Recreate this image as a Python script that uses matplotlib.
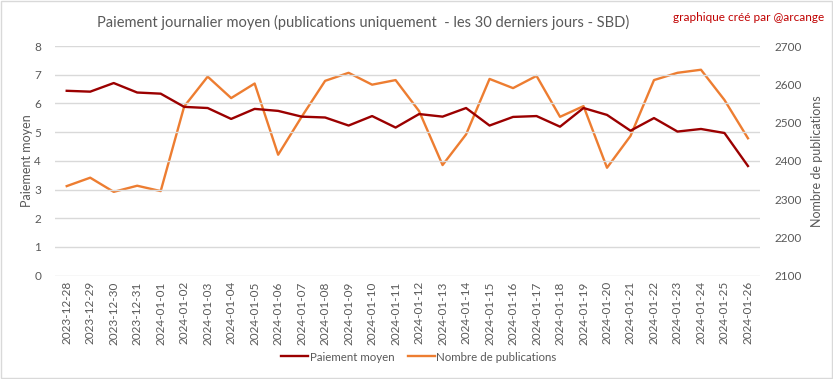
import matplotlib.pyplot as plt
from matplotlib.patches import Rectangle

dates = ['2023-12-28', '2023-12-29', '2023-12-30', '2023-12-31', '2024-01-01',
         '2024-01-02', '2024-01-03', '2024-01-04', '2024-01-05', '2024-01-06',
         '2024-01-07', '2024-01-08', '2024-01-09', '2024-01-10', '2024-01-11',
         '2024-01-12', '2024-01-13', '2024-01-14', '2024-01-15', '2024-01-16',
         '2024-01-17', '2024-01-18', '2024-01-19', '2024-01-20', '2024-01-21',
         '2024-01-22', '2024-01-23', '2024-01-24', '2024-01-25', '2024-01-26']

paiement = [6.44, 6.41, 6.71, 6.38, 6.34, 5.88, 5.84, 5.46, 5.81, 5.74,
            5.54, 5.51, 5.23, 5.56, 5.16, 5.63, 5.54, 5.84, 5.23, 5.53,
            5.56, 5.19, 5.84, 5.60, 5.05, 5.49, 5.02, 5.11, 4.97, 3.82]

publications = [2334, 2356, 2319, 2335, 2321, 2542, 2620, 2564, 2602, 2416,
                2515, 2609, 2630, 2599, 2611, 2530, 2389, 2469, 2614, 2590,
                2622, 2515, 2543, 2382, 2465, 2611, 2630, 2638, 2559, 2459]

TXT = '#595959'
GRID = '#D9D9D9'
RED = '#9B0000'
ORANGE = '#ED7D31'

plt.rcParams['font.family'] = ['Lato', 'DejaVu Sans']

fig = plt.figure(figsize=(8.33, 3.79), dpi=100)
ax = fig.add_axes([0.066, 0.2726, 0.846, 0.606])
ax2 = ax.twinx()

x = list(range(len(dates)))
l1, = ax.plot(x, paiement, color=RED, linewidth=1.7, label='Paiement moyen', zorder=3)
l2, = ax2.plot(x, publications, color=ORANGE, linewidth=1.7, label='Nombre de publications')

ax.set_xlim(-0.5, len(dates) - 0.5)
ax.set_ylim(0, 8)
ax2.set_ylim(2100, 2700)
ax.set_yticks(range(0, 9))
ax2.set_yticks(range(2100, 2701, 100))
ax.set_xticks(x)
ax.set_xticklabels(dates, rotation=90)

ax.grid(axis='y', color=GRID, linewidth=1)
ax.set_axisbelow(True)
for a in (ax, ax2):
    for s in a.spines.values():
        s.set_visible(False)
    a.tick_params(length=0, colors=TXT, labelsize=8.5)
ax.tick_params(axis='y', pad=10)
ax2.tick_params(axis='y', pad=11)
ax.tick_params(axis='x', pad=4)
ax.set_zorder(ax2.get_zorder() + 1)
ax.patch.set_visible(False)

ax.set_ylabel('Paiement moyen', color=TXT, fontsize=9, labelpad=1)
ax2.set_ylabel('Nombre de publications', color=TXT, fontsize=9, labelpad=6)

fig.text(0.436, 0.94, 'Paiement journalier moyen (publications uniquement  - les 30 derniers jours - SBD)',
         ha='center', va='center', color=TXT, fontsize=10.5)
fig.text(0.99, 0.955, 'graphique créé par @arcange', ha='right', va='center',
         color='#C00000', fontsize=8.5)

fig.legend([l1, l2], ['Paiement moyen', 'Nombre de publications'], loc='center',
           bbox_to_anchor=(0.503, 0.058), ncol=2, frameon=False, fontsize=8.3,
           labelcolor=TXT, handlelength=2.3, handletextpad=0.15, columnspacing=1.2)

fig.patches.append(Rectangle((0.0015, 0.002), 0.997, 0.995, transform=fig.transFigure,
                             fill=False, edgecolor=GRID, linewidth=1))

fig.savefig('out.png', dpi=100)
